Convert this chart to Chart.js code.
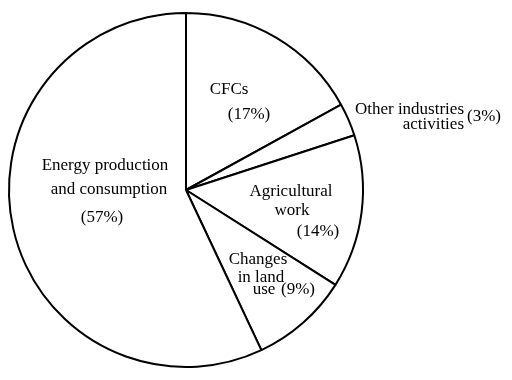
<!DOCTYPE html>
<html>
<head>
<meta charset="utf-8">
<script src="https://cdn.jsdelivr.net/npm/chart.js@4/dist/chart.umd.min.js"></script>
<style>
  html, body { margin: 0; padding: 0; background: #fff; }
  #wrap { width: 512px; height: 380px; }
</style>
</head>
<body>
<div id="wrap"><canvas id="pieChart" width="512" height="380"></canvas></div>
<script>
// Share of each source (percent), clockwise from 12 o'clock
const categories = ['CFCs', 'Other industries activities', 'Agricultural work', 'Changes in land use', 'Energy production and consumption'];
const shares = [17, 3, 14, 9, 57];

// Text lines for each slice label
const labelLines = [
    ['CFCs', '(17%)'],
    ['Other industries', 'activities', '(3%)'],
    ['Agricultural', 'work', '(14%)'],
    ['Changes', 'in land', 'use', '(9%)'],
    ['Energy production', 'and consumption', '(57%)']
];

// Where each text line sits, relative to the pie centre (x, y, align)
const labelPlaces = [
    [[43, -100, 'center'], [63, -75, 'center']],
    [[278, -80, 'right'], [278, -65, 'right'], [298, -73, 'center']],
    [[105, 2, 'center'], [106, 21, 'center'], [132, 42, 'center']],
    [[72, 70, 'center'], [75, 88, 'center'], [78, 100, 'center'], [112, 100, 'center']],
    [[-81, -24, 'center'], [-77, 0, 'center'], [-84, 28, 'center']]
];

const labelPlugin = {
    id: 'sliceLabels',
    afterDraw(chart) {
        const ctx = chart.ctx;
        const arc = chart.getDatasetMeta(0).data[0];
        const cx = arc.x;
        const cy = arc.y;
        ctx.save();
        ctx.fillStyle = '#000';
        ctx.font = '17px "Liberation Serif", serif';
        ctx.textBaseline = 'middle';
        labelLines.forEach((lines, i) => {
            lines.forEach((txt, j) => {
                const p = labelPlaces[i][j];
                ctx.textAlign = p[2];
                ctx.fillText(txt, cx + p[0], cy + p[1]);
            });
        });
        ctx.restore();
    }
};

const ctx = document.getElementById('pieChart').getContext('2d');
const chart = new Chart(ctx, {
    type: 'pie',
    data: {
        labels: categories,
        datasets: [{
            data: shares,
            backgroundColor: '#ffffff',
            borderColor: '#000000',
            borderWidth: 2
        }]
    },
    options: {
        responsive: false,
        animation: false,
        layout: { padding: { left: 8, right: 148, top: 12, bottom: 12 } },
        plugins: {
            legend: { display: false },
            tooltip: { enabled: false }
        }
    },
    plugins: [labelPlugin]
});
</script>
</body>
</html>
